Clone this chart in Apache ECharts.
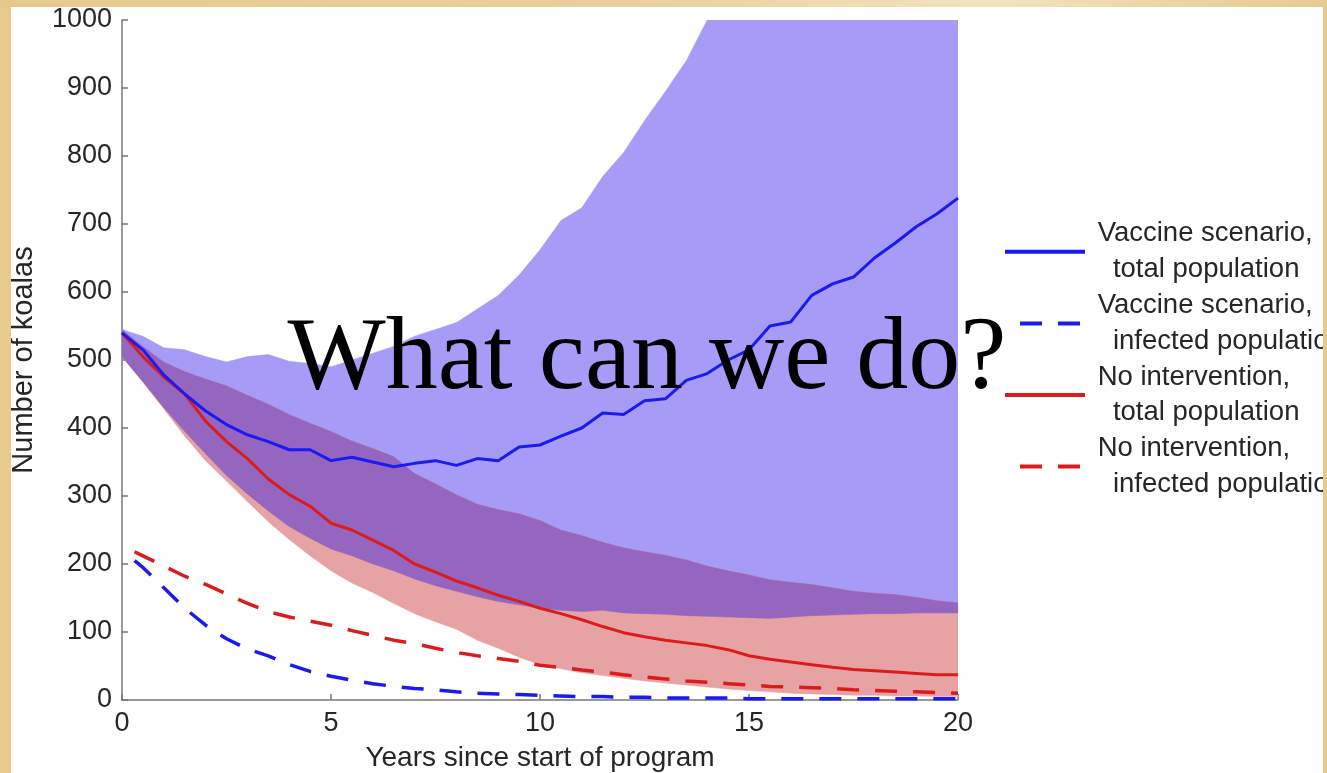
<!DOCTYPE html>
<html>
<head>
<meta charset="utf-8">
<script src="https://cdn.jsdelivr.net/npm/echarts@6/dist/echarts.min.js"></script>
<style>
html,body{margin:0;padding:0;background:#fff;}
#chart{width:1327px;height:773px;}
</style>
</head>
<body>
<div id="chart"></div>
<script>
// ---- data ----
const years = [0,0.5,1,1.5,2,2.5,3,3.5,4,4.5,5,5.5,6,6.5,7,7.5,8,8.5,9,9.5,10,10.5,11,11.5,12,12.5,13,13.5,14,14.5,15,15.5,16,16.5,17,17.5,18,18.5,19,19.5,20];
const infYears = [0.3,0.5,1,1.5,2,2.5,3,3.5,4,4.5,5,5.5,6,6.5,7,7.5,8,8.5,9,9.5,10,10.5,11,11.5,12,12.5,13,13.5,14,14.5,15,15.5,16,16.5,17,17.5,18,18.5,19,19.5,20];

const vaccineTotal = [540,515,478,450,425,405,390,380,368,368,352,357,350,343,348,352,345,355,352,372,375,388,400,422,420,440,443,470,480,500,515,550,556,595,612,622,650,672,696,715,738];
const noIntTotal = [540,505,475,450,410,380,355,325,302,285,260,250,235,220,200,188,175,165,154,145,135,127,118,108,99,93,88,84,80,74,65,60,56,52,48,45,43,41,39,37,37];
const vaccineInfected = [205,195,165,135,110,90,75,65,52,42,35,29,24,20,17,15,12,10,9,8,7,6,5,5,4,4,3,3,3,3,2,2,2,2,2,2,2,2,2,2,2];
const noIntInfected = [218,212,197,182,170,156,142,130,122,116,110,102,95,88,83,76,70,65,61,57,51,48,44,41,37,34,31,28,26,24,22,20,19,18,17,15,14,13,12,11,10];

const vaccineHi = [545,535,518,515,505,497,505,508,498,495,490,500,510,520,535,545,555,575,595,625,662,705,724,770,805,852,895,940,1000,1000,1000,1000,1000,1000,1000,1000,1000,1000,1000,1000,1000];
const vaccineLo = [505,468,430,395,362,330,303,278,255,238,222,212,200,190,178,168,160,152,145,140,135,132,130,132,128,127,126,124,123,122,121,120,122,124,125,126,127,127,128,128,128];
const noIntHi = [545,520,497,483,472,462,448,435,420,407,395,381,370,358,333,318,302,288,280,274,264,250,242,232,224,218,213,206,197,190,184,177,173,170,165,160,157,155,151,146,143];
const noIntLo = [505,468,428,388,352,322,292,262,236,212,190,172,158,142,127,115,104,88,76,63,52,46,40,36,32,28,25,22,19,16,14,12,10,9,8,7,7,6,6,5,5];

const xTicks = {min:0, max:20, interval:5};
const yTicks = {min:0, max:1000, interval:100};

const seriesNames = [
  ' Vaccine scenario,\n   total population',
  ' Vaccine scenario,\n   infected population',
  ' No intervention,\n   total population',
  ' No intervention,\n   infected population'
];

// ---- derived ----
const overlapHi = noIntHi.map((v,i)=>Math.min(v, vaccineHi[i]));
const overlapLo = noIntLo.map((v,i)=>Math.max(v, vaccineLo[i]));
const zip = (xs, ys) => xs.map((x,i)=>[x, ys[i]]);

function band(hi, lo, color, z){
  return {
    type:'custom', silent:true, z:z, clip:true,
    data:[[years[0], lo[0]]],
    renderItem:function(params, api){
      const pts = [];
      for (let i=0;i<years.length;i++) pts.push(api.coord([years[i], hi[i]]));
      for (let i=years.length-1;i>=0;i--) pts.push(api.coord([years[i], lo[i]]));
      return {type:'polygon', shape:{points:pts}, style:{fill:color, stroke:color, lineWidth:0.5}};
    }
  };
}

const BLUE = '#1a1af2';
const RED = '#dc1c1c';
const DASH = [22,16];
const axisFont = 'Liberation Sans, Arial, sans-serif';
const TXT = '#262626';

const chart = echarts.init(document.getElementById('chart'), null, {renderer:'canvas'});
chart.setOption({
  animation:false,
  backgroundColor:'#ffffff',
  grid:{left:122, right:369, top:20, bottom:73, containLabel:false, outerBoundsMode:'none'},
  xAxis:{
    type:'value', min:xTicks.min, max:xTicks.max, interval:xTicks.interval,
    name:'Years since start of program', nameLocation:'middle', nameGap:44,
    nameTextStyle:{fontFamily:axisFont, fontSize:28, color:TXT},
    axisLine:{show:true, lineStyle:{color:'#777', width:1.5}},
    axisTick:{show:true, inside:true, length:6, lineStyle:{color:'#777', width:1.5}},
    axisLabel:{fontFamily:axisFont, fontSize:27, color:TXT, margin:10},
    splitLine:{show:false}
  },
  yAxis:{
    type:'value', min:yTicks.min, max:yTicks.max, interval:yTicks.interval,
    name:'Number of koalas', nameLocation:'middle', nameGap:84, nameRotate:90,
    nameTextStyle:{fontFamily:axisFont, fontSize:29, color:TXT},
    axisLine:{show:true, lineStyle:{color:'#777', width:1.5}},
    axisTick:{show:true, inside:true, length:6, lineStyle:{color:'#777', width:1.5}},
    axisLabel:{fontFamily:axisFont, fontSize:27, color:TXT, margin:10,
      formatter:function(v){return String(v);}},
    splitLine:{show:false}
  },
  legend:{
    orient:'vertical', left:1003, top:216, padding:0, itemGap:0,
    itemWidth:80, itemHeight:12,
    data:seriesNames,
    textStyle:{fontFamily:axisFont, fontSize:27.5, color:TXT, lineHeight:35.8},
    lineStyle:{width:4, dashOffset:23},
    itemStyle:{opacity:0},
    selectedMode:false
  },
  series:[
    band(vaccineHi, vaccineLo, '#a69cf7', 1),
    band(noIntHi, noIntLo, '#e7a3a3', 2),
    band(overlapHi, overlapLo, '#9466bf', 3),
    {name:seriesNames[3], type:'line', symbol:'none', z:5, data:zip(infYears, noIntInfected),
      lineStyle:{color:RED, width:3.5, type:DASH}, itemStyle:{color:RED}},
    {name:seriesNames[1], type:'line', symbol:'none', z:5, data:zip(infYears, vaccineInfected),
      lineStyle:{color:BLUE, width:3.5, type:DASH}, itemStyle:{color:BLUE}},
    {name:seriesNames[2], type:'line', symbol:'none', z:6, data:zip(years, noIntTotal),
      lineStyle:{color:RED, width:3}, itemStyle:{color:RED}},
    {name:seriesNames[0], type:'line', symbol:'none', z:7, data:zip(years, vaccineTotal),
      lineStyle:{color:BLUE, width:3}, itemStyle:{color:BLUE}}
  ],
  graphic:[
    {type:'text', z:50, silent:true, x:647, y:361,
      style:{text:'What can we do?', fontFamily:'Liberation Serif, Times New Roman, serif', fontSize:104,
        fill:'#000', align:'center', verticalAlign:'middle'}},
    {type:'rect', z:100, silent:true, shape:{x:0,y:0,width:11,height:773},
      style:{fill:'#e7cb8e'}},
    {type:'rect', z:100, silent:true, shape:{x:0,y:0,width:1327,height:7},
      style:{fill:new echarts.graphic.LinearGradient(0,0,1,0,[
        {offset:0,color:'#e6c98a'},{offset:0.45,color:'#ead09a'},{offset:0.75,color:'#f2e3bb'},{offset:1,color:'#e7cb8e'}])}},
    {type:'rect', z:100, silent:true, shape:{x:1323,y:0,width:4,height:773},
      style:{fill:'#e7cb8e'}}
  ]
});
</script>
</body>
</html>
